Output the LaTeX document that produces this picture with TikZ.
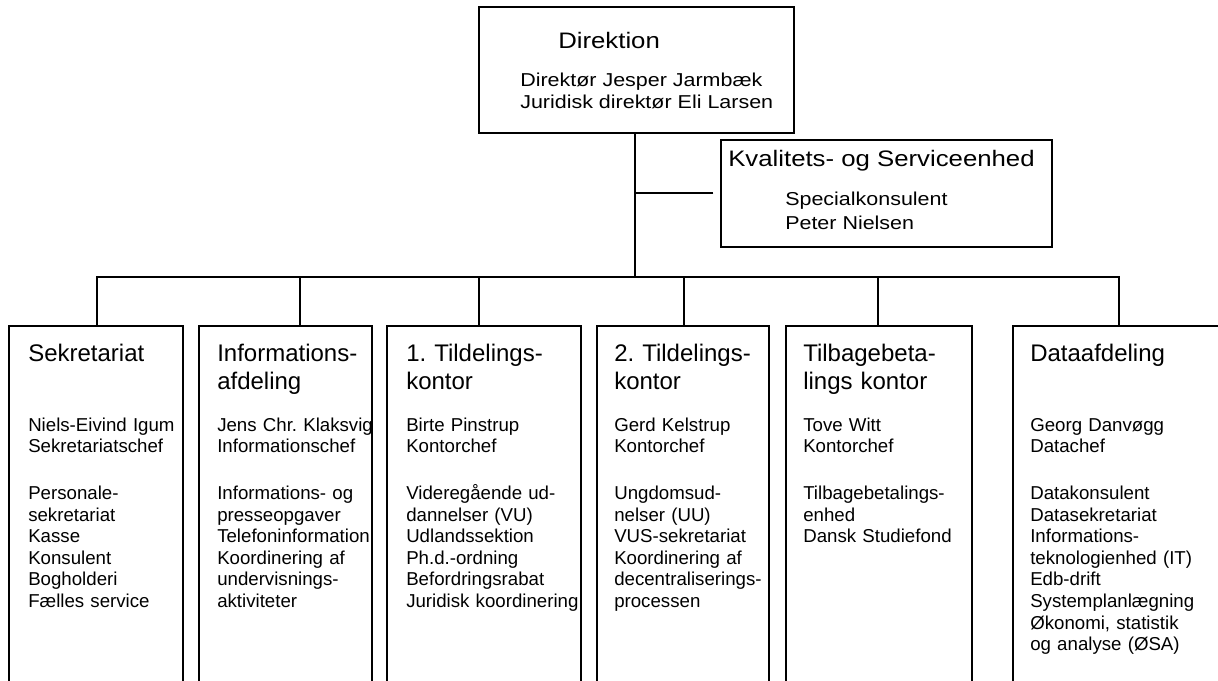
\documentclass[tikz,border=0pt]{standalone}
\usepackage{fontspec}
\setmainfont{Liberation Sans}
\usepackage{graphicx}
\usetikzlibrary{fit}
\newcommand{\widetxt}[1]{\scalebox{1.15}[1]{#1}}
\frenchspacing
\begin{document}
\begin{tikzpicture}[x=0.75pt,y=-0.75pt,
  box/.style={draw, line width=1.5pt, inner sep=0pt},
  link/.style={line width=1.5pt},
  ttl/.style={anchor=base west, inner sep=0pt, text width=200pt, align=left, font=\fontsize{18}{21}\selectfont},
  bdy/.style={anchor=base west, inner sep=0pt, text width=200pt, align=left, font=\fontsize{14}{16.2}\selectfont},
  toptitle/.style={anchor=base west, inner sep=0pt, font=\fontsize{16.8}{20}\selectfont},
  topbody/.style={anchor=base west, inner sep=0pt, font=\fontsize{14}{16}\selectfont}]
\useasboundingbox (0,0) rectangle (1218,681);
\clip (0,0) rectangle (1218,681);

% boxes
\node[box, fit={(479,7) (794,133)}] (dir) {};
\node[box, fit={(721,140) (1052,247)}] (kval) {};
\node[box, fit={(9,326) (183,720)}] (b1) {};
\node[box, fit={(199,326) (372,720)}] (b2) {};
\node[box, fit={(387,326) (581,720)}] (b3) {};
\node[box, fit={(597,326) (769,720)}] (b4) {};
\node[box, fit={(786,326) (972,720)}] (b5) {};
\node[box, fit={(1013,326) (1240,720)}] (b6) {};

% connectors
\coordinate (j) at (635,277);
\coordinate (busL) at (97,277);
\coordinate (busR) at (1119,277);
\coordinate (d2) at (300,277);
\coordinate (d3) at (479,277);
\coordinate (d4) at (684,277);
\coordinate (d5) at (878,277);
\draw[link] (dir.south -| j) -- (j);
\draw[link, shorten <=5pt] (kval.west) -- (kval.west -| j);
\draw[link] (busL |- b1.north) -- (busL) -- (busR) -- (busR |- b6.north);
\draw[link] (d2) -- (d2 |- b2.north);
\draw[link] (d3) -- (d3 |- b3.north);
\draw[link] (d4) -- (d4 |- b4.north);
\draw[link] (d5) -- (d5 |- b5.north);

% top texts
\node[toptitle] (t0) at (558,49) {\widetxt{Direktion}};
\node[topbody] (t0a) at (520,87) {\widetxt{Direktør Jesper Jarmbæk}};
\node[topbody] (t0b) at (520,109) {\widetxt{Juridisk direktør Eli Larsen}};
\node[toptitle] (tk) at (728,167) {\widetxt{Kvalitets- og Serviceenhed}};
\node[topbody] (tka) at (785,206) {\widetxt{Specialkonsulent}};
\node[topbody] (tkb) at (785,230) {\widetxt{Peter Nielsen}};

% department texts
\node[ttl] (h1) at (28,361) {Sekretariat};
\node[bdy] (x1) at (28,431) {Niels-Eivind Igum\\Sekretariatschef\\[19pt]Personale-\\sekretariat\\Kasse\\Konsulent\\Bogholderi\\Fælles service};

\node[ttl] (h2) at (217,361) {Informations-\\afdeling};
\node[bdy] (x2) at (217,431) {Jens Chr. Klaksvig\\Informationschef\\[19pt]Informations- og\\presseopgaver\\Telefoninformation\\Koordinering af\\undervisnings-\\aktiviteter};

\node[ttl] (h3) at (406,361) {1. Tildelings-\\kontor};
\node[bdy] (x3) at (406,431) {Birte Pinstrup\\Kontorchef\\[19pt]Videregående ud-\\dannelser (VU)\\Udlandssektion\\Ph.d.-ordning\\Befordringsrabat\\Juridisk koordinering};

\node[ttl] (h4) at (614,361) {2. Tildelings-\\kontor};
\node[bdy] (x4) at (614,431) {Gerd Kelstrup\\Kontorchef\\[19pt]Ungdomsud-\\nelser (UU)\\VUS-sekretariat\\Koordinering af\\decentraliserings-\\processen};

\node[ttl] (h5) at (803,361) {Tilbagebeta-\\lings kontor};
\node[bdy] (x5) at (803,431) {Tove Witt\\Kontorchef\\[19pt]Tilbagebetalings-\\enhed\\Dansk Studiefond};

\node[ttl] (h6) at (1030,361) {Dataafdeling};
\node[bdy] (x6) at (1030,431) {Georg Danvøgg\\Datachef\\[19pt]Datakonsulent\\Datasekretariat\\Informations-\\teknologienhed (IT)\\Edb-drift\\Systemplanlægning\\Økonomi, statistik\\og analyse (ØSA)};
\end{tikzpicture}
\end{document}
